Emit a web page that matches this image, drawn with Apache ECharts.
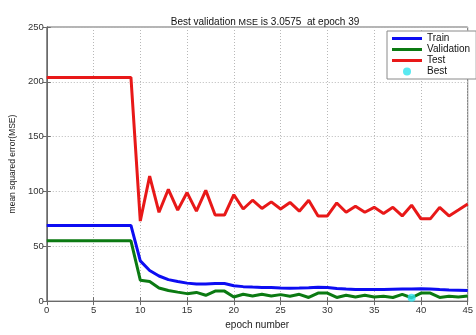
<!DOCTYPE html>
<html>
<head>
<meta charset="utf-8">
<style>
  html, body { margin: 0; padding: 0; background: #fff; }
  #chart { width: 476px; height: 335px; }
</style>
<script src="https://cdn.jsdelivr.net/npm/echarts@6/dist/echarts.min.js"></script>
</head>
<body>
<div id="chart"></div>
<script>
// Training performance: mean squared error per epoch
const epochs = Array.from({ length: 46 }, (_, i) => i);

const trainMSE = [
  69, 69, 69, 69, 69, 69, 69, 69, 69, 69,
  36.7, 27.9, 22.9, 19.6, 17.9, 16.4, 15.5, 15.5, 16, 16,
  14, 13.2, 12.8, 12.5, 12.3, 12, 11.8, 11.9, 12.2, 12.6,
  12.5, 11.5, 11, 10.6, 10.6, 10.6, 10.6, 10.8, 11, 11.1,
  11.3, 11, 10.5, 10.2, 10, 9.7
];

const validationMSE = [
  55, 55, 55, 55, 55, 55, 55, 55, 55, 55,
  19.1, 17.9, 12, 9.7, 8.2, 6.8, 7.9, 5.3, 9.1, 9.1,
  3.8, 6.2, 4.7, 6.2, 4.7, 5.9, 4.4, 6.2, 3.3, 7.3,
  7.3, 3.3, 5.3, 3.8, 5.3, 3.8, 4.4, 3.3, 6.2, 3.0575,
  7.3, 7.3, 3.3, 4.4, 3.8, 4.7
];

const testMSE = [
  204, 204, 204, 204, 204, 204, 204, 204, 204, 204,
  73, 114, 81, 102, 83, 99, 82, 101, 78.5, 78.5,
  97, 84, 92, 84.5, 90.5, 84, 90, 82, 92, 77.7,
  77.7, 89.5, 81, 86.5, 81, 85.5, 80, 85.5, 77.7, 87.5,
  75, 75, 85.5, 77.7, 83, 88.5
];

const bestEpoch = 39;
const bestMSE = 3.0575;

const xTicks = [0, 5, 10, 15, 20, 25, 30, 35, 40, 45];
const yTicks = [0, 50, 100, 150, 200, 250];

const pairs = vals => epochs.map((e, i) => [e, vals[i]]);

const chart = echarts.init(document.getElementById('chart'), null, { renderer: 'canvas' });

const FONT = '"Liberation Sans", Arial, sans-serif';
const axisColor = '#6a6a6a';
const gridLine = { show: true, lineStyle: { type: [1, 2], color: '#b8b8b8', width: 1 } };

// legend swatch: a 3px bar centred in a 30x8 box (the extra moveTo points fix the bounds)
const LINE_ICON = 'path://M0,0 M30,8 M0,2.5 L30,2.5 L30,5.5 L0,5.5 Z';

const lineSeries = (name, vals, color) => ({
  name,
  type: 'line',
  data: pairs(vals),
  symbol: 'none',
  smooth: false,
  lineStyle: { color, width: 3 },
  itemStyle: { color },
  z: 3
});

chart.setOption({
  animation: false,
  backgroundColor: '#fff',
  textStyle: { fontFamily: FONT },
  title: {
    text: 'Best validation {m|MSE} is ' + bestMSE + '  at epoch ' + bestEpoch,
    left: 260,
    top: 12,
    textAlign: 'center',
    textStyle: {
      fontFamily: FONT,
      fontSize: 10,
      fontWeight: 'normal',
      color: '#111',
      rich: { m: { fontFamily: FONT, fontSize: 9, color: '#111', padding: [1, 0, 0, 0] } }
    }
  },
  grid: {
    left: 44, top: 27, width: 433, height: 284,
    show: true, borderColor: axisColor, borderWidth: 1, backgroundColor: '#fff'
  },
  legend: {
    orient: 'vertical',
    left: 387, top: 31,
    padding: [2, 6, 2, 5],
    itemWidth: 30, itemHeight: 8, itemGap: 0,
    backgroundColor: '#fff',
    borderColor: '#8a8a8a', borderWidth: 1,
    textStyle: { fontFamily: FONT, fontSize: 10, lineHeight: 11, color: '#111' },
    data: [
      { name: 'Train', icon: LINE_ICON },
      { name: 'Validation', icon: LINE_ICON },
      { name: 'Test', icon: LINE_ICON },
      { name: 'Best', icon: 'circle' }
    ]
  },
  xAxis: [
    {
      type: 'value', min: xTicks[0], max: xTicks[xTicks.length - 1], interval: 5,
      name: 'epoch number', nameLocation: 'middle', nameGap: 18,
      nameTextStyle: { fontFamily: FONT, fontSize: 10, color: '#222' },
      axisLine: { show: true, lineStyle: { color: axisColor } },
      axisTick: { show: true, inside: true, length: 4, lineStyle: { color: axisColor } },
      axisLabel: { fontFamily: FONT, fontSize: 9.5, color: '#333', margin: 4 },
      splitLine: gridLine
    },
    {
      type: 'value', position: 'top', min: 0, max: 45, interval: 5,
      axisLine: { show: true, lineStyle: { color: axisColor } },
      axisTick: { show: true, inside: true, length: 4, lineStyle: { color: axisColor } },
      axisLabel: { show: false }, splitLine: { show: false }
    }
  ],
  yAxis: [
    {
      type: 'value', min: yTicks[0], max: yTicks[yTicks.length - 1], interval: 50,
      name: 'mean squared error(MSE)', nameLocation: 'middle', nameGap: 26,
      nameTextStyle: { fontFamily: FONT, fontSize: 8.5, color: '#222' },
      axisLine: { show: true, lineStyle: { color: axisColor } },
      axisTick: { show: true, inside: true, length: 4, lineStyle: { color: axisColor } },
      axisLabel: { fontFamily: FONT, fontSize: 9.5, color: '#333', margin: 3 },
      splitLine: gridLine
    },
    {
      type: 'value', position: 'right', min: 0, max: 250, interval: 50,
      axisLine: { show: true, lineStyle: { color: axisColor } },
      axisTick: { show: true, inside: true, length: 4, lineStyle: { color: axisColor } },
      axisLabel: { show: false }, splitLine: { show: false }
    }
  ],
  series: [
    lineSeries('Train', trainMSE, '#0d0df2'),
    lineSeries('Validation', validationMSE, '#0b7a12'),
    lineSeries('Test', testMSE, '#e81818'),
    {
      name: 'Best',
      type: 'scatter',
      data: [[bestEpoch, bestMSE]],
      symbol: 'circle',
      symbolSize: 8,
      itemStyle: { color: '#2fe3ee' },
      z: 5
    }
  ]
});
</script>
</body>
</html>
